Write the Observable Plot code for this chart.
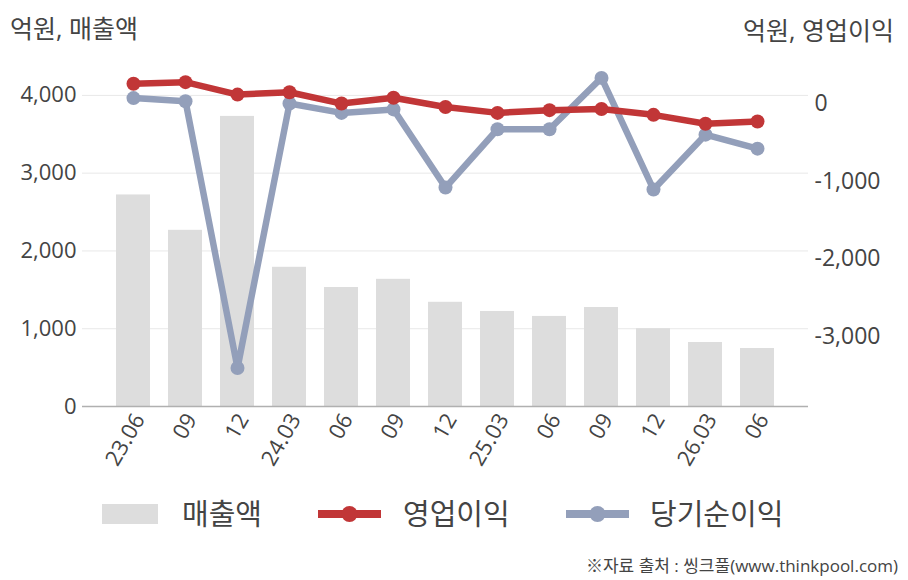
<!DOCTYPE html>
<html><head><meta charset="utf-8">
<script src="https://cdn.jsdelivr.net/npm/d3@7"></script>
<script src="https://cdn.jsdelivr.net/npm/@observablehq/plot@0.6"></script>
<style>
body{margin:0;background:#fff;font-family:"Open Sans","Noto Sans CJK KR",sans-serif;color:#444;}
#wrap{width:908px;}
#head{height:50px;position:relative;font-size:25px;}
#head .l{position:absolute;left:10px;top:9px;}
#head .r{position:absolute;right:14px;top:11px;}
#legend{height:50px;position:relative;font-size:29px;}
#legend .sw{position:absolute;}
#legend .tx{position:absolute;top:6px;line-height:36px;}
#cap{height:40px;font-size:17px;text-align:right;padding-right:10px;box-sizing:border-box;line-height:52px;}
</style></head>
<body><div id="wrap">
<div id="head"><span class="l">억원, 매출액</span><span class="r">억원, 영업이익</span></div>
<div id="chart"></div>
<div id="legend"></div>
<div id="cap">※자료 출처 : 씽크풀(www.thinkpool.com)</div>
</div>
<script>
const periods = ["23.06","09","12","24.03","06","09","12","25.03","06","09","12","26.03","06"];
const sales = [2720, 2265, 3730, 1790, 1530, 1635, 1340, 1222, 1158, 1273, 1000, 823, 746];
const opProfit = [150, 170, 10, 40, -105, -30, -150, -225, -190, -175, -250, -365, -335];
const netIncome = [-35, -75, -3505, -105, -225, -180, -1185, -435, -435, 225, -1210, -505, -685];
const leftTicks = [0, 1000, 2000, 3000, 4000];
const rightTicks = [0, -1000, -2000, -3000];
const seriesNames = ["매출액", "영업이익", "당기순이익"];

const colors = {bar:"#dddddd", op:"#c13637", net:"#939fba"};
const offset = 4000; // right axis 0 aligns with left 4000
const fmt = d3.format(",");
const fmtR = v => (v < 0 ? "-" : "") + fmt(Math.abs(v));

const rows = periods.map((p, i) => ({i, p, sales: sales[i], op: opProfit[i] + offset, net: netIncome[i] + offset}));

const chart = Plot.plot({
  width: 908, height: 440,
  marginTop: 6, marginBottom: 84, marginLeft: 82, marginRight: 100,
  style: {fontFamily: '"Open Sans","Noto Sans CJK KR",sans-serif', fontSize: "21px", color: "#444", background: "#fff"},
  x: {type: "band", domain: d3.range(periods.length), paddingInner: 0.35, paddingOuter: 0.63},
  y: {domain: [0, 4500]},
  marks: [
    Plot.gridY(leftTicks.slice(1), {stroke: "#e8e8e8", strokeOpacity: 1}),
    Plot.barY(rows, {x: "i", y: "sales", fill: colors.bar}),
    Plot.ruleY([0], {stroke: "#b0b0b0", strokeWidth: 1.5}),
    Plot.line(rows, {x: "i", y: "net", stroke: colors.net, strokeWidth: 6.5}),
    Plot.dot(rows, {x: "i", y: "net", fill: colors.net, r: 7}),
    Plot.line(rows, {x: "i", y: "op", stroke: colors.op, strokeWidth: 6.5}),
    Plot.dot(rows, {x: "i", y: "op", fill: colors.op, r: 7}),
    Plot.axisY({anchor: "left", ticks: leftTicks, tickFormat: fmt, tickSize: 0, tickPadding: 6, fill: "#444", label: null, fontSize: 22}),
    Plot.axisY({anchor: "right", ticks: rightTicks.map(v => v + offset), tickFormat: v => fmtR(v - offset), tickSize: 0, tickPadding: 6, dy: 8, fill: "#444", label: null, fontSize: 23}),
    Plot.axisX({tickFormat: i => periods[i], tickRotate: -60, tickSize: 0, tickPadding: 9, dx: 6, fill: "#444", label: null, fontSize: 22})
  ]
});
document.getElementById("chart").appendChild(chart);

// legend
const lg = document.getElementById("legend");
function item(swatchHtml, swLeft, swTop, name, txLeft) {
  const s = document.createElement("div");
  s.className = "sw"; s.style.left = swLeft + "px"; s.style.top = swTop + "px";
  s.innerHTML = swatchHtml;
  lg.appendChild(s);
  const t = document.createElement("div");
  t.className = "tx"; t.style.left = txLeft + "px";
  t.textContent = name;
  lg.appendChild(t);
}
const lineSw = c => `<svg width="63" height="18" style="display:block"><line x1="0" x2="63" y1="9" y2="9" stroke="${c}" stroke-width="8"/><circle cx="31.5" cy="9" r="8" fill="${c}"/></svg>`;
item(`<svg width="56" height="20" style="display:block"><rect width="56" height="20" fill="${colors.bar}"/></svg>`, 102, 14, seriesNames[0], 182);
item(lineSw(colors.op), 318, 15, seriesNames[1], 403);
item(lineSw(colors.net), 566, 15, seriesNames[2], 650);
</script>
</body></html>
